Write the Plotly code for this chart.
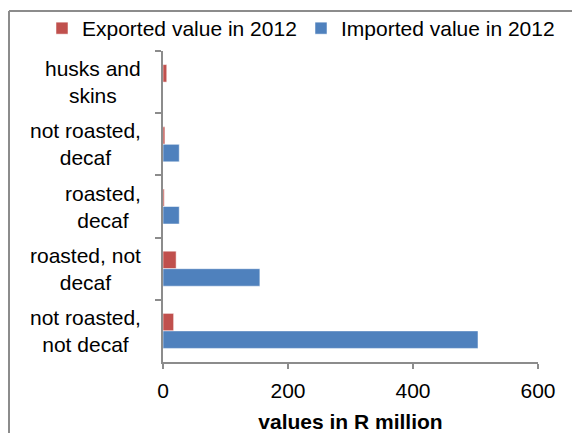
import plotly.graph_objects as go

categories = ["husks and<br>skins", "not roasted,<br>decaf", "roasted,<br>decaf",
              "roasted, not<br>decaf", "not roasted,<br>not decaf"]
exported = [6, 3, 2, 21, 17]
imported = [0, 26, 26, 155, 504]
series_names = ["Exported value in 2012", "Imported value in 2012"]
x_ticks = [0, 200, 400, 600]
x_title = "values in R million"

W, H = 572, 433
L, R, T, B = 163, 34, 51, 71
FONT = "Arial, Liberation Sans, sans-serif"
FS = 21
GRAY = "#8c8c8c"

fig = go.Figure()
fig.add_trace(go.Bar(y=categories, x=exported, orientation="h", name=series_names[0],
                     marker=dict(color="#C0504D", line=dict(color="rgba(255,255,255,0.5)", width=1))))
fig.add_trace(go.Bar(y=categories, x=imported, orientation="h", name=series_names[1],
                     marker=dict(color="#4F81BD", line=dict(color="rgba(255,255,255,0.5)", width=1))))

pw = W - L - R
ph = H - T - B
def px_x(p):
    return (p - L) / pw
def px_y(p):
    return (H - B - p) / ph

annotations = []
for c in categories:
    annotations.append(dict(text=c, x=px_x(143), xref="paper", xanchor="right",
                            y=c, yref="y", yanchor="middle", align="center",
                            showarrow=False, font=dict(family=FONT, size=FS, color="#000")))

shapes = [
    dict(type="line", xref="paper", yref="paper", x0=px_x(9), x1=px_x(W + 5), y0=px_y(11), y1=px_y(11),
         line=dict(color=GRAY, width=2)),
    dict(type="line", xref="paper", yref="paper", x0=px_x(9), x1=px_x(9), y0=px_y(11), y1=px_y(H + 5),
         line=dict(color=GRAY, width=2)),
]

fig.update_layout(
    width=W, height=H,
    margin=dict(l=L, r=R, t=T, b=B, pad=0, autoexpand=False),
    paper_bgcolor="white", plot_bgcolor="white",
    barmode="group", bargap=0.437, bargroupgap=0,
    font=dict(family=FONT, size=FS, color="#000"),
    showlegend=True,
    legend=dict(orientation="h", x=px_x(42), y=px_y(8), xanchor="left", yanchor="top",
                font=dict(family=FONT, size=FS, color="#000"),
                entrywidth=214, entrywidthmode="pixels", itemwidth=30,
                bgcolor="rgba(0,0,0,0)"),
    annotations=annotations,
    shapes=shapes,
    xaxis=dict(range=[0, 600], tickvals=x_ticks, ticktext=[str(v) for v in x_ticks],
               automargin=False,
               showgrid=False, zeroline=False, showline=True, linecolor=GRAY, linewidth=2,
               ticks="outside", ticklen=5, tickwidth=2, tickcolor=GRAY, ticklabelstandoff=4,
               tickfont=dict(family=FONT, size=FS, color="#000"),
               title=dict(text="<b>" + x_title + "</b>", standoff=18,
                          font=dict(family=FONT, size=FS, color="#000"))),
    yaxis=dict(autorange="reversed", showgrid=False, zeroline=False, showline=True,
               automargin=False,
               linecolor=GRAY, linewidth=2, ticks="outside", ticklen=6, tickwidth=2,
               tickcolor=GRAY, tickson="boundaries", showticklabels=False),
)

fig.write_html("out.html")
